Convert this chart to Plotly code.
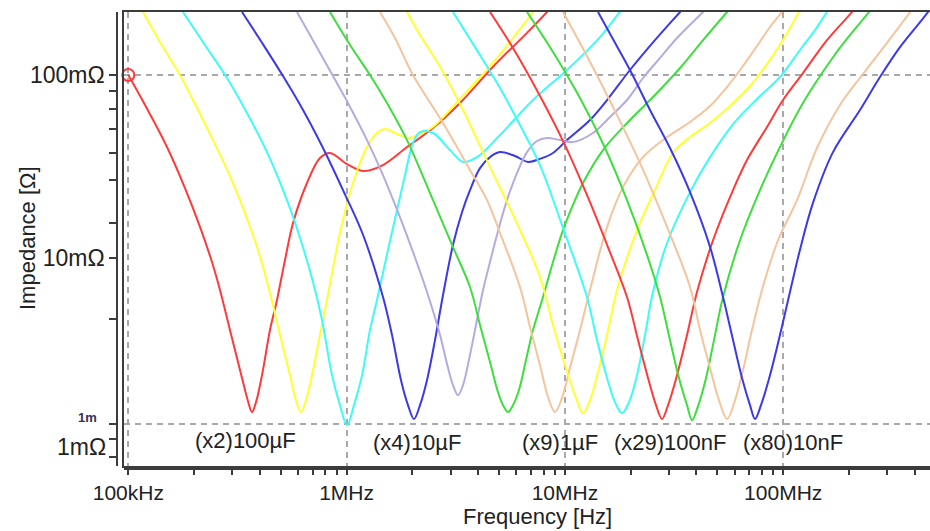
import plotly.graph_objects as go

# Frequency in MHz, impedance in mOhm
red1_f = [0.1, 0.1193, 0.1504, 0.1818, 0.2130, 0.2417, 0.2630, 0.2985, 0.3318, 0.3534, 0.3687, 0.3846, 0.4098, 0.4457, 0.4799, 0.5222, 0.5681, 0.6585, 0.7553, 0.8393, 1.004, 1.189, 1.468, 1.891, 2.488, 3.307, 4.685, 6.706, 8.279, 8.820]
red1_z = [100, 68.6, 40.4, 24.1, 14.8, 9.51, 6.69, 3.65, 2.21, 1.65, 1.44, 1.63, 2.29, 4.04, 5.90, 9.75, 15.5, 25.7, 35.2, 37.5, 32.6, 29.9, 32.2, 40.4, 51.3, 70.3, 111, 170, 221, 241]

yellow1_f = [0.1168, 0.1397, 0.1725, 0.1979, 0.2443, 0.3018, 0.3887, 0.4457, 0.4953, 0.5504, 0.5862, 0.6181, 0.6516, 0.6944, 0.7553, 0.8131, 0.9327, 1.070, 1.240, 1.378, 1.499, 1.702, 1.952, 2.169, 2.488, 3.307, 4.685, 5.783, 7.144, 7.451]
yellow1_z = [221, 151.5, 100, 73.0, 44.1, 25.7, 11.5, 6.44, 3.80, 2.29, 1.67, 1.44, 1.67, 2.29, 3.80, 5.90, 13.7, 25.7, 40.4, 48.2, 50.7, 47.6, 45.3, 47.6, 52.0, 73.9, 116.3, 159.3, 221, 241]

cyan1_f = [0.1780, 0.2245, 0.2833, 0.3497, 0.4319, 0.5333, 0.6116, 0.7015, 0.7716, 0.8572, 0.9327, 1.004, 1.081, 1.177, 1.280, 1.378, 1.548, 1.702, 1.852, 2.014, 2.169, 2.488, 2.977, 3.414, 3.956, 5.044, 7.144, 10.22, 14.48, 17.88, 19.05]
cyan1_z = [221, 145.8, 96.3, 62.0, 37.9, 20.7, 12.9, 7.39, 4.58, 2.29, 1.57, 1.22, 1.57, 2.29, 4.04, 5.90, 11.1, 18.3, 28.4, 42.5, 48.8, 48.2, 38.9, 33.5, 35.6, 47.0, 73.0, 106.5, 161, 221, 241]

blue1_f = [0.3318, 0.4098, 0.5113, 0.6316, 0.7797, 0.9627, 1.189, 1.468, 1.614, 1.775, 1.911, 2.036, 2.169, 2.335, 2.541, 2.765, 3.072, 3.378, 3.675, 4.085, 4.539, 5.044, 5.906, 6.776, 7.691, 8.820, 10.22, 13.03, 15.60, 19.87, 25.86, 33.68, 35.87]
blue1_z = [221, 150, 98.7, 64.4, 39.9, 23.5, 13.4, 6.12, 3.80, 2.15, 1.57, 1.32, 1.57, 2.15, 3.56, 6.28, 11.8, 17.8, 23.5, 31.0, 35.6, 37.9, 36.1, 33.5, 34.8, 37.5, 44.1, 56.8, 73.0, 106.5, 155, 221, 241]

lavender_f = [0.5925, 0.7167, 0.8663, 1.037, 1.240, 1.468, 1.720, 2.014, 2.335, 2.679, 2.914, 3.072, 3.238, 3.414, 3.675, 3.956, 4.217, 4.539, 4.887, 5.430, 6.032, 6.706, 7.451, 8.279, 9.496, 10.89, 13.45, 16.09, 19.25, 22.80, 27.28, 32.63, 42.93, 46.22]
lavender_z = [221, 147.7, 98.7, 66.9, 44.1, 28.4, 17.8, 10.8, 6.52, 3.80, 2.51, 2.02, 1.78, 2.02, 2.95, 4.58, 6.69, 9.51, 13.4, 20.7, 29.1, 37.9, 43.6, 45.3, 44.1, 43.0, 48.2, 58.9, 73.0, 96.3, 123.9, 159.3, 221, 241]

green1_f = [0.8393, 1.037, 1.280, 1.531, 1.891, 2.488, 3.040, 3.675, 4.085, 4.539, 4.938, 5.206, 5.487, 5.783, 6.162, 6.634, 7.144, 7.938, 8.820, 9.801, 10.89, 12.10, 14.95, 19.87, 25.86, 33.68, 42.93, 55.30, 58.91]
green1_z = [221, 145.8, 100, 70.3, 44.1, 20.7, 11.8, 6.94, 4.30, 2.70, 1.85, 1.57, 1.44, 1.57, 1.90, 2.77, 4.04, 6.12, 9.51, 14.2, 19.5, 25.7, 38.9, 56.8, 77.7, 109.2, 155, 221, 241]

peach1_f = [1.422, 1.666, 2.014, 2.765, 3.675, 4.398, 5.044, 6.226, 6.921, 7.691, 8.367, 9.008, 9.699, 10.55, 11.73, 13.03, 15.60, 18.46, 22.80, 29.37, 37.43, 46.22, 55.30, 65.46, 75.86, 87.0, 98.74, 104.1]
peach1_z = [221, 159.3, 100, 54.7, 30.3, 20.7, 13.7, 6.94, 4.20, 2.60, 1.74, 1.44, 1.72, 2.51, 4.04, 6.69, 14.8, 24.4, 35.6, 45.8, 55.4, 67.7, 86.0, 112.0, 144.0, 183, 221, 241]

yellow2_f = [1.891, 2.169, 2.679, 3.414, 4.539, 6.032, 7.691, 8.820, 10.01, 11.24, 12.10, 13.03, 14.18, 15.60, 17.33, 21.40, 25.86, 31.28, 37.43, 46.22, 57.07, 70.46, 87.0, 103.0, 118.1, 123.2]
yellow2_z = [221, 165.4, 111, 64.4, 31.4, 15.5, 7.87, 4.30, 2.60, 1.72, 1.42, 1.67, 2.38, 3.80, 6.69, 14.2, 23.5, 37.5, 45.8, 54.7, 67.7, 87.1, 121, 165.4, 221, 241]

cyan2_f = [3.072, 3.875, 5.044, 6.226, 7.691, 9.801, 12.62, 14.03, 15.60, 16.96, 18.27, 19.67, 21.40, 23.28, 25.32, 29.37, 37.43, 46.22, 60.15, 76.65, 96.67, 119.4, 139.9, 158.7, 167.3]
cyan2_z = [221, 142, 84.9, 53.3, 32.2, 14.6, 6.12, 3.56, 2.21, 1.63, 1.42, 1.63, 2.29, 3.80, 6.52, 12.08, 22.9, 35.6, 55.4, 74.8, 97.5, 137, 176, 221, 241]

red2_f = [4.539, 5.783, 7.691, 10.01, 12.62, 15.60, 19.25, 21.63, 24.03, 26.14, 27.86, 29.68, 32.63, 36.26, 40.29, 47.71, 58.91, 68.27, 84.30, 99.8, 123.2, 158.7, 206.7, 217.8]
red2_z = [221, 140.4, 76.8, 41.4, 22.1, 11.8, 6.12, 3.56, 2.21, 1.57, 1.32, 1.57, 2.29, 3.80, 6.52, 12.5, 23.5, 34.3, 52.0, 73.0, 102.5, 155, 221, 241]

green2_f = [6.706, 8.820, 11.73, 15.27, 19.25, 23.78, 27.28, 30.30, 33.32, 36.26, 38.23, 40.72, 44.31, 48.19, 53.01, 63.42, 78.30, 96.67, 123.2, 169.1, 202.3, 247.3, 260.6]
green2_z = [221, 133.6, 74.8, 39.9, 20.7, 10.4, 6.12, 3.56, 2.21, 1.57, 1.30, 1.55, 2.21, 3.56, 6.12, 12.5, 23.5, 40.4, 70.3, 125, 165.4, 221, 241]

peach2_f = [9.801, 12.76, 16.61, 22.09, 29.37, 37.43, 41.59, 46.22, 50.80, 55.30, 60.15, 65.46, 71.94, 79.96, 94.67, 115.7, 142.8, 182.0, 232.1, 298.9, 381.0, 397.3]
peach2_z = [221, 123.9, 66.9, 33.0, 14.8, 6.94, 4.04, 2.51, 1.67, 1.32, 1.67, 2.44, 4.04, 6.69, 12.5, 20.7, 39.9, 68.6, 101.3, 150, 221, 241]

blue2_f = [14.18, 16.96, 19.87, 24.54, 30.30, 37.43, 46.22, 53.01, 58.91, 64.77, 70.46, 74.27, 79.12, 87.0, 96.67, 107.4, 119.4, 136.9, 169.1, 224.8, 277.6, 342.8, 460.6, 480.4]
blue2_z = [221, 150, 106.5, 64.4, 39.9, 22.9, 11.5, 6.12, 3.56, 2.21, 1.57, 1.32, 1.57, 2.29, 3.80, 6.52, 11.1, 20.0, 37.9, 64.4, 97.5, 142, 221, 241]

x_tick_vals = [0.1, 1, 10, 100]
x_tick_text = ["100kHz", "1MHz", "10MHz", "100MHz"]
x_minor_vals = [0.2, 0.3, 0.4, 0.5, 0.6, 0.7, 0.8, 0.9, 2, 3, 4, 5, 6, 7, 8, 9,
                20, 30, 40, 50, 60, 70, 80, 90, 200, 300, 400]
y_tick_vals = [100, 10, 1.24]
y_tick_text = ["100mΩ", "10mΩ", ""]
y_minor_vals = [82, 65, 50.7, 37.6, 26.7, 15.6, 4.64, 1.03, 0.82]
y_grid_vals = [100, 1.24]

group_labels = ["(x2)100µF", "(x4)10µF", "(x9)1µF", "(x29)100nF", "(x80)10nF"]

RED = "#ff3a3a"; YEL = "#ffff30"; CYA = "#3dfbfb"; BLU = "#3a3ae6"
LAV = "#b6aadf"; GRN = "#3ede3e"; PCH = "#f6c49c"

curves = [
    (red1_f, red1_z, RED, "circle-open", 12),
    (yellow1_f, yellow1_z, YEL, "y-up", 9),
    (cyan1_f, cyan1_z, CYA, "square-open", 10),
    (blue1_f, blue1_z, BLU, "y-up", 9),
    (lavender_f, lavender_z, LAV, "y-up", 9),
    (green1_f, green1_z, GRN, "triangle-up-open", 11),
    (peach1_f, peach1_z, PCH, "diamond-open", 9),
    (yellow2_f, yellow2_z, YEL, "y-up", 9),
    (cyan2_f, cyan2_z, CYA, "square-open", 10),
    (red2_f, red2_z, RED, "circle-open", 11),
    (green2_f, green2_z, GRN, "triangle-up-open", 11),
    (peach2_f, peach2_z, PCH, "diamond-open", 9),
    (blue2_f, blue2_z, BLU, "y-up", 9),
]

fig = go.Figure()
for f, z, c, sym, sz in curves:
    fig.add_trace(go.Scatter(x=f, y=z, mode="lines",
                             line=dict(color=c, width=2, shape="spline", smoothing=1.0),
                             showlegend=False, hoverinfo="skip"))
for f, z, c, sym, sz in curves:
    fig.add_trace(go.Scatter(x=[f[0]], y=[z[0]], mode="markers", cliponaxis=False,
                             marker=dict(symbol=sym, size=sz, color=c,
                                         line=dict(color=c, width=2)),
                             showlegend=False, hoverinfo="skip"))
# anchor trace for the outer axes
fig.add_trace(go.Scatter(x=[1], y=[10], xaxis="x2", yaxis="y2", mode="markers",
                         marker=dict(opacity=0), showlegend=False, hoverinfo="skip"))

FONT = "Liberation Sans, Arial, sans-serif"
LC = "#3c3c3c"
GC = "#a9a9a9"
xr = [-1.0197, 2.6725]
yr = [-0.1366, 2.3443]
W, H = 930, 531
ML, MT, MB = 117, 12, 62
PW, PH = W - ML, H - MT - MB

fig.update_layout(
    width=W, height=H, margin=dict(l=ML, r=0, t=MT, b=MB),
    paper_bgcolor="white", plot_bgcolor="white",
    font=dict(family=FONT, size=23, color="#222"),
    xaxis=dict(type="log", range=xr, domain=[7 / PW, 1], anchor="y",
               showline=True, linecolor=LC, linewidth=1.5, mirror=True,
               ticks="", showticklabels=False, tickvals=x_tick_vals,
               showgrid=True, gridcolor=GC, gridwidth=1.5, griddash="6px,5px",
               zeroline=False),
    yaxis=dict(type="log", range=yr, domain=[3 / PH, 1], anchor="x",
               showline=True, linecolor=LC, linewidth=1.5, mirror=False,
               ticks="", showticklabels=False, tickvals=y_grid_vals,
               showgrid=True, gridcolor=GC, gridwidth=1.5, griddash="6px,5px",
               zeroline=False),
    xaxis2=dict(type="log", range=xr, overlaying="x", anchor="free", position=0,
                showline=True, linecolor=LC, linewidth=1.5,
                ticks="outside", ticklen=5, tickwidth=1.5, tickcolor=LC,
                tickvals=x_tick_vals, ticktext=x_tick_text,
                tickfont=dict(size=21, color="#222", family=FONT),
                minor=dict(tickvals=x_minor_vals, ticks="outside", ticklen=5,
                           tickwidth=1.5, tickcolor=LC, showgrid=False),
                showgrid=False, zeroline=False),
    yaxis2=dict(type="log", range=yr, overlaying="y", anchor="free", position=0,
                side="left", showline=True, linecolor=LC, linewidth=1.5,
                ticks="outside", ticklen=7, tickwidth=1.5, tickcolor=LC,
                tickvals=y_tick_vals, ticktext=y_tick_text,
                tickfont=dict(size=23, color="#222", family=FONT),
                minor=dict(tickvals=y_minor_vals, ticks="outside", ticklen=7,
                           tickwidth=1.5, tickcolor=LC, showgrid=False),
                showgrid=False, zeroline=False),
)

def px(xp):
    return (xp - ML) / PW

def py(yp):
    return (H - MB - yp) / PH

def note(text, xp, yp, size, xanchor="center", angle=0, color="#222"):
    fig.add_annotation(text=text, x=px(xp), y=py(yp), xref="paper", yref="paper",
                       xanchor=xanchor, yanchor="middle", textangle=angle,
                       showarrow=False, font=dict(size=size, color=color, family=FONT))

label_pos = [(245, 440), (417, 442), (560, 442), (670, 442), (793, 442)]
for txt, (lx, ly) in zip(group_labels, label_pos):
    note(txt, lx, ly, 22)

note("1mΩ", 108, 447, 23, xanchor="right")
note("<b>1m</b>", 99, 417, 13, xanchor="right", color="#3a3050")
note("Impedance [Ω]", 27, 238, 22, angle=-90)
note("Frequency [Hz]", 537, 516, 22)

fig.write_html("out.html")
